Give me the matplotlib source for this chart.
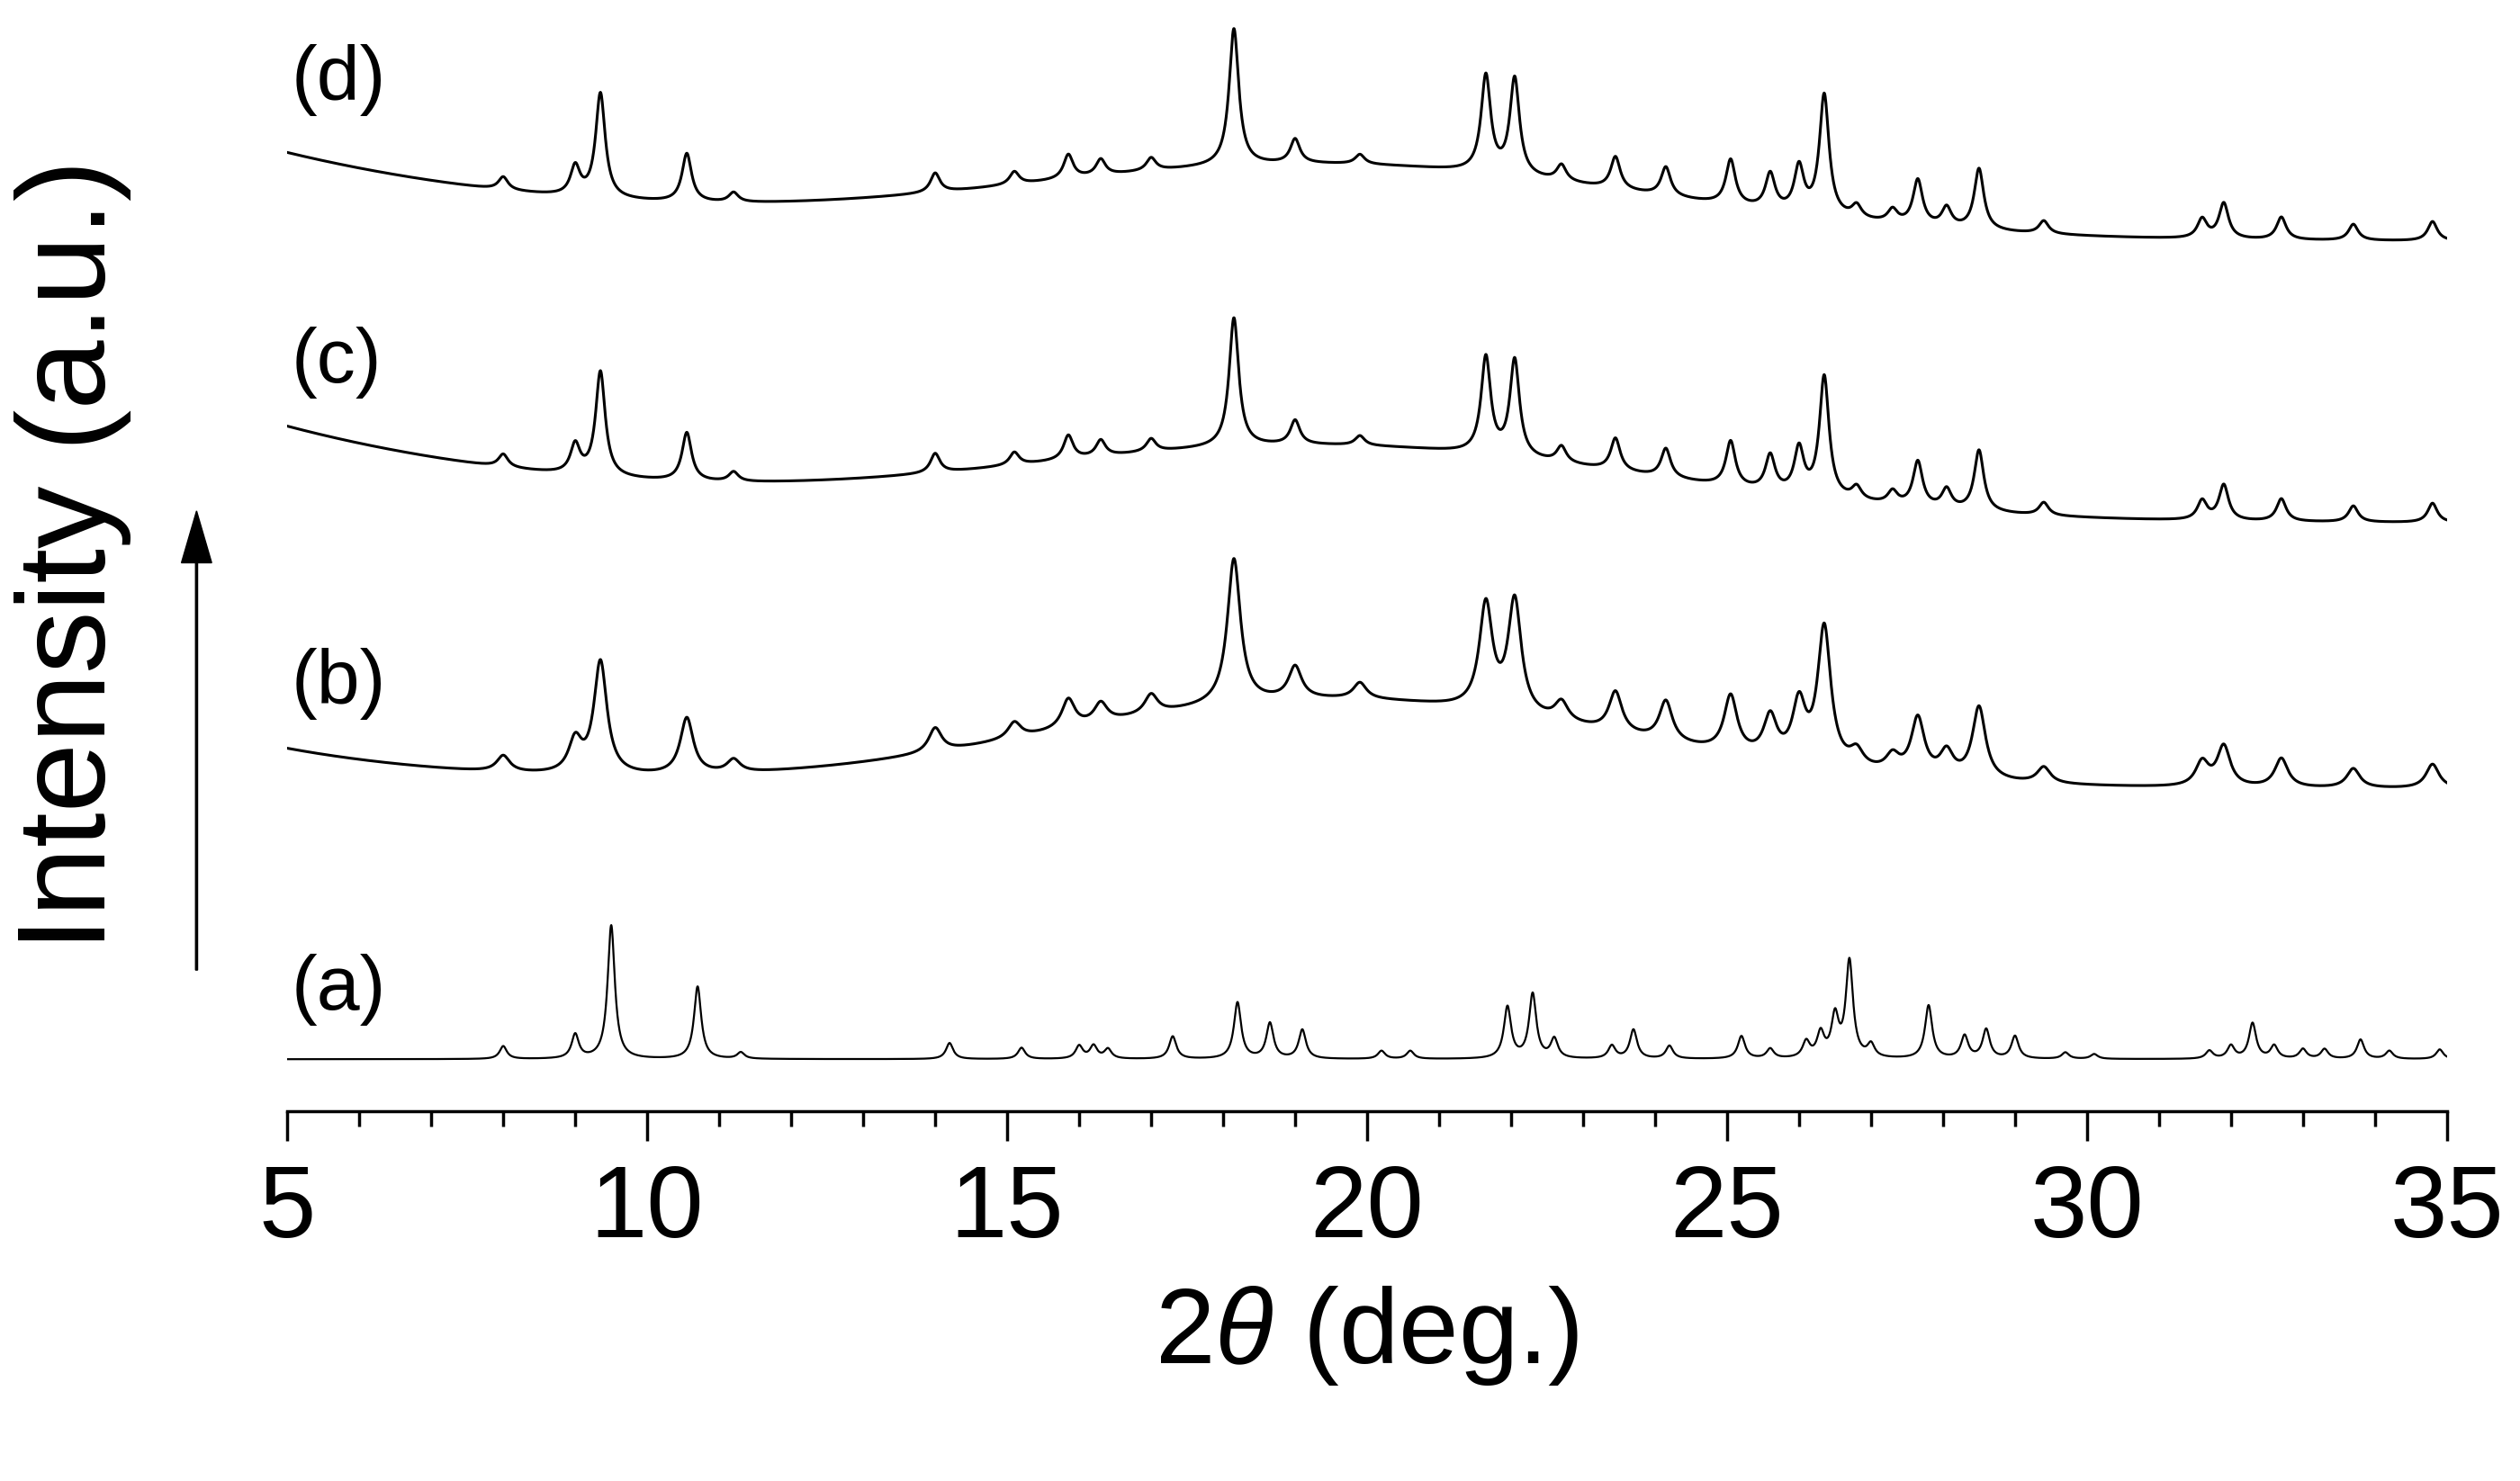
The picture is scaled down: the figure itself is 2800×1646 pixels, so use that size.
import numpy as np
import matplotlib.pyplot as plt
from matplotlib.ticker import MultipleLocator

plt.rcParams['font.family'] = ['Liberation Sans', 'DejaVu Sans']
plt.rcParams['mathtext.fontset'] = 'custom'
plt.rcParams['mathtext.it'] = 'Liberation Sans:italic'

# peak positions (deg) and heights (arbitrary)
pos_a = [8.0, 9.0, 9.5, 10.7, 11.3, 14.2, 15.2, 16.0, 16.2, 16.4, 17.3, 18.2, 18.65, 19.1, 20.2, 20.6,
         21.95, 22.3, 22.6, 23.4, 23.7, 24.2, 25.2, 25.6, 26.1, 26.3, 26.5, 26.7, 27.0, 27.8, 28.3,
         28.6, 29.0, 29.7, 30.1, 31.7, 32.0, 32.3, 32.6, 33.0, 33.3, 33.8, 34.2, 34.9]
h_a = [8, 15, 83, 45, 4, 10, 7, 8, 8, 6, 14, 35, 22, 18, 5, 5,
       32, 40, 12, 8, 18, 8, 14, 6, 10, 15, 25, 60, 8, 33, 14,
       18, 14, 4, 3, 5, 8, 22, 8, 6, 6, 12, 5, 6]

pos_s = [8.0, 9.0, 9.35, 10.55, 11.2, 14.0, 15.1, 15.85, 16.3, 17.0, 18.15, 19.0, 19.9, 21.65, 22.05,
         22.7, 23.45, 24.15, 25.05, 25.6, 26.0, 26.35, 26.8, 27.3, 27.65, 28.05, 28.5, 29.4, 31.6,
         31.9, 32.7, 33.7, 34.8]
h_b = [10, 20, 70, 35, 8, 15, 10, 18, 12, 12, 90, 20, 10, 65, 70,
       12, 25, 25, 35, 25, 35, 85, 10, 10, 35, 15, 45, 10, 15,
       25, 18, 12, 15]
h_c = [8, 18, 65, 30, 6, 12, 8, 15, 10, 8, 80, 15, 6, 60, 60,
       10, 20, 18, 28, 22, 28, 75, 8, 8, 28, 12, 38, 8, 12,
       22, 14, 10, 12]
h_d = [8, 18, 65, 30, 6, 12, 8, 15, 10, 8, 85, 15, 6, 60, 60,
       10, 20, 18, 28, 22, 28, 75, 8, 8, 28, 12, 38, 8, 12,
       22, 14, 10, 12]

# baseline: offset, halo (pos, amp, sigma), low-angle tail (amp, decay)
base_b = (200, 19.5, 55, 4.0, 25, 3.0)
base_c = (365, 19.5, 45, 4.5, 60, 5.0)
base_d = (540, 19.5, 45, 4.5, 55, 5.0)
labels = ['(a)', '(b)', '(c)', '(d)']
label_y = [75, 265, 465, 640]

x = np.linspace(5, 35, 6000)


def pattern(pos, h, w):
    y = np.zeros_like(x)
    for p, hh in zip(pos, h):
        y += hh / (1 + ((x - p) / w) ** 2)
    return y


def baseline(b):
    off, c, amp, s, tail, tau = b
    return off + amp * np.exp(-0.5 * ((x - c) / s) ** 2) + tail * np.exp(-(x - 5) / tau)


fig = plt.figure(figsize=(28, 16.46), dpi=100)
ax = fig.add_axes([0.114, 0.25, 0.857, 0.75])

ax.plot(x, 32 + pattern(pos_a, h_a, 0.06), color='black', lw=1.6)
ax.plot(x, baseline(base_b) + pattern(pos_s, h_b, 0.11), color='black', lw=2.2)
ax.plot(x, baseline(base_c) + pattern(pos_s, h_c, 0.08), color='black', lw=2.2)
ax.plot(x, baseline(base_d) + pattern(pos_s, h_d, 0.08), color='black', lw=2.2)

for lab, ly in zip(labels, label_y):
    ax.text(5.05, ly, lab, fontsize=62, ha='left', va='center')

ax.set_xlim(5, 35)
ax.set_ylim(0, 690)
for s in ['top', 'left', 'right']:
    ax.spines[s].set_visible(False)
ax.spines['bottom'].set_linewidth(2.5)
ax.set_yticks([])
ax.xaxis.set_major_locator(MultipleLocator(5))
ax.xaxis.set_minor_locator(MultipleLocator(1))
ax.tick_params(axis='x', which='major', length=24, width=2.5, labelsize=82, pad=18)
ax.tick_params(axis='x', which='minor', length=12, width=2.5)
ax.set_xlabel(r'2$\it{\theta}$ (deg.)', fontsize=86, labelpad=20)

fig.text(0.029, 0.625, 'Intensity (a.u.)', rotation=90, fontsize=100, ha='center', va='center')
fig.patches.append(plt.matplotlib.patches.FancyArrow(
    0.078, 0.345, 0, 0.31, width=0.0008, head_width=0.012, head_length=0.035,
    color='black', transform=fig.transFigure, length_includes_head=True))

fig.savefig('out.png', dpi=100)
